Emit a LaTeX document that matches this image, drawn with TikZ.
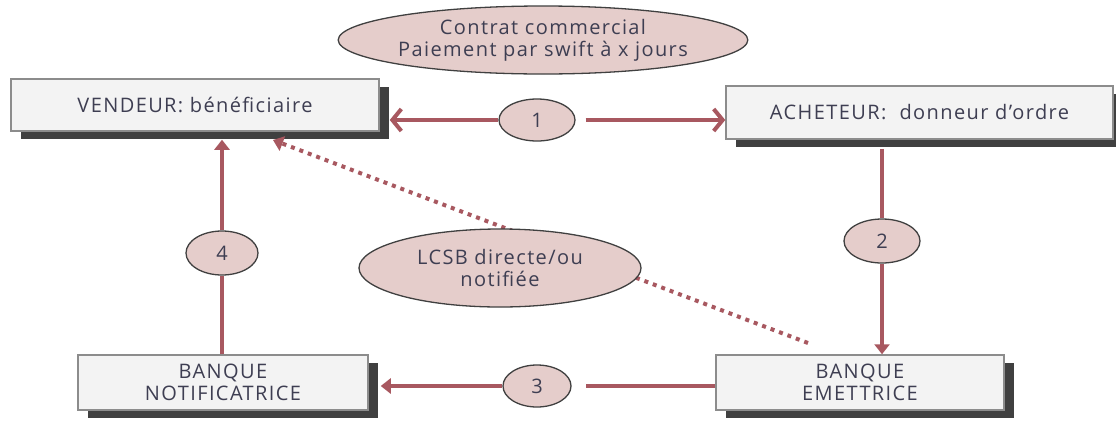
\documentclass[tikz,border=0pt]{standalone}
\usepackage{fontspec}
\setmainfont[LetterSpace=7]{Open Sans}
\usetikzlibrary{arrows.meta,shapes.geometric,shadows}
\definecolor{linkred}{RGB}{168,88,96}
\definecolor{bubble}{RGB}{229,205,203}
\definecolor{boxfill}{RGB}{243,243,243}
\definecolor{boxline}{RGB}{140,140,140}
\definecolor{shadowc}{RGB}{64,64,64}
\definecolor{txt}{RGB}{62,62,82}
\begin{document}
\begin{tikzpicture}[x=1pt,y=-1pt,
  every node/.style={text=txt,font=\fontsize{20}{25}\selectfont},
  actor/.style={draw=boxline,line width=1.5pt,fill=boxfill,rectangle,inner sep=0pt,align=center,
    general shadow={fill=shadowc,shadow xshift=10pt,shadow yshift=-8pt}},
  bubblenode/.style={ellipse,draw=shadowc,line width=1.3pt,fill=bubble,inner sep=0pt,align=center},
  conn/.style={draw=linkred,line width=4pt},
  tipfill/.style={-{Triangle[length=10pt,width=15pt]}},
  tipopen/.style={-{Straight Barb[length=9pt,width=22pt]}},
  dotconn/.style={draw=linkred,line width=4pt,dash pattern=on 4pt off 5pt}
]
\useasboundingbox[fill=white] (0,0) rectangle (1116,421);

% boxes
\node[actor,minimum width=368pt,minimum height=52pt] (V) at (195,105) {VENDEUR: bénéficiaire};
\node[actor,minimum width=387pt,minimum height=53pt] (A) at (919.5,112.5) {ACHETEUR:\ \ donneur d’ordre};
\node[actor,minimum width=290pt,minimum height=55pt] (N) at (223,382.5) {BANQUE\\[-3pt]NOTIFICATRICE};
\node[actor,minimum width=288pt,minimum height=55pt] (E) at (860,382.5) {BANQUE\\[-3pt]EMETTRICE};

% contract bubble
\node[bubblenode,minimum width=370pt,minimum height=68pt] (contrat) at (543,40) {Contrat commercial\\[-3pt]Paiement par swift à x jours};

% dotted link (behind the LCSB bubble)
\coordinate (dstart) at (808,343);
\coordinate (dend) at (273,140);
\draw[dotconn,tipfill] (dstart) -- (dend);

% step bubbles
\node[bubblenode,minimum width=76pt,minimum height=42pt] (c1) at (537,120) {1};
\node[bubblenode,minimum width=76pt,minimum height=44pt] (c2) at (882,241) {2};
\node[bubblenode,minimum width=68pt,minimum height=42pt] (c3) at (537,386) {3};
\node[bubblenode,minimum width=72pt,minimum height=44pt] (c4) at (222,253) {4};
\node[bubblenode,minimum width=282pt,minimum height=78pt] (lcsb) at (500,268) {LCSB directe/ou\\[-3pt]notifiée};

% 1
\draw[conn,tipopen] (c1.west) -- ([xshift=10pt]V.east |- c1.west);
\draw[conn,tipopen] ([xshift=10pt]c1.east) -- (A.west |- c1.east);
% 2
\draw[conn] ([yshift=-9pt]A.south -| c2.north) -- (c2.north);
\draw[conn,tipfill] (c2.south) -- (E.north -| c2.south);
% 3
\draw[conn] (E.west |- c3.east) -- ([xshift=14pt]c3.east);
\draw[conn,tipfill] (c3.west) -- ([xshift=12pt]N.east |- c3.west);
% 4
\draw[conn] (N.north -| c4.south) -- (c4.south);
\draw[conn,tipfill] (c4.north) -- ([yshift=-8pt]V.south -| c4.north);
\end{tikzpicture}
\end{document}
